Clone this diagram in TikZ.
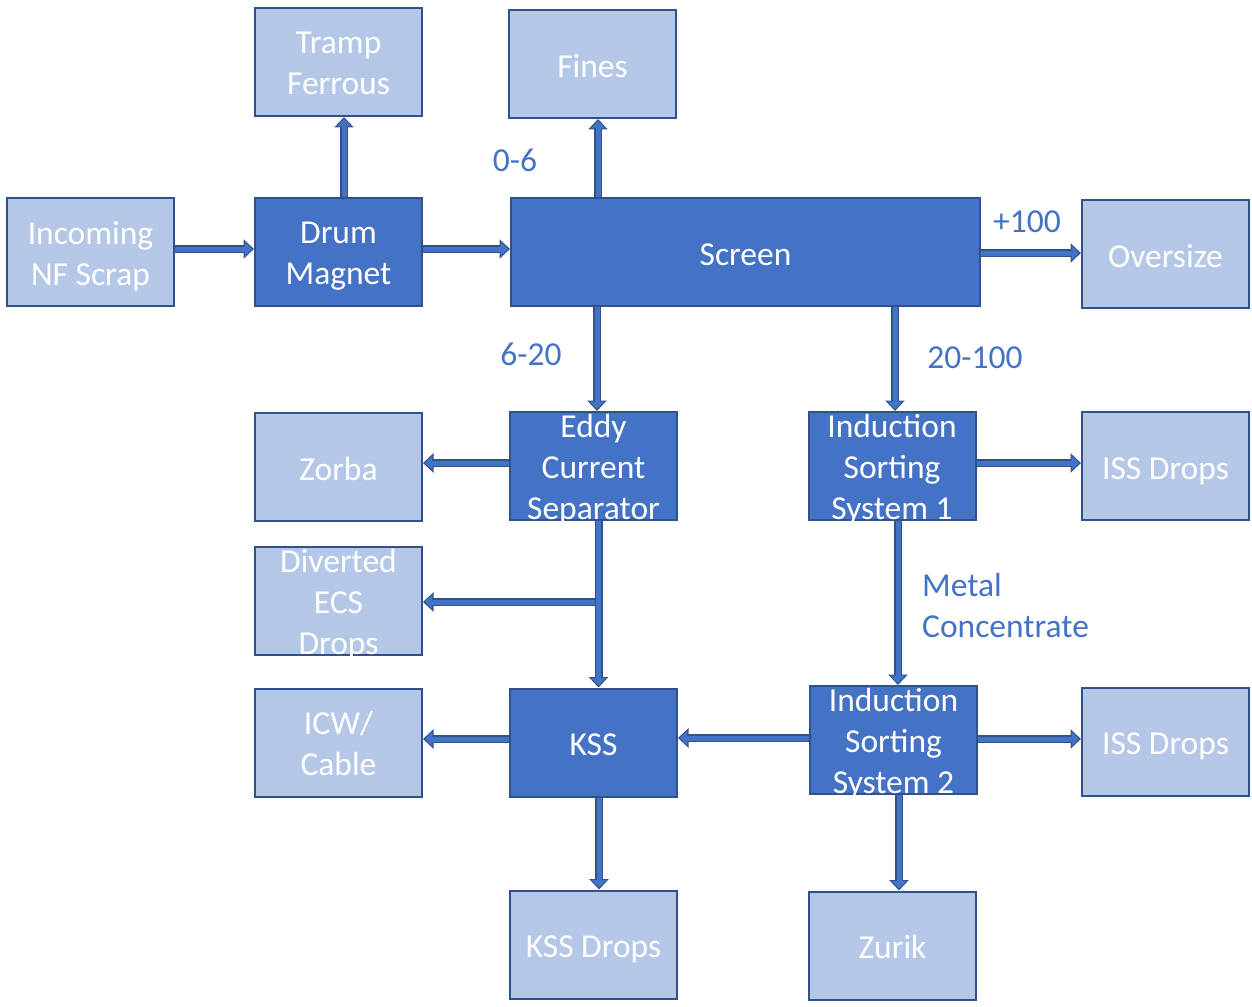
\documentclass[tikz,border=0pt]{standalone}
\usepackage{fontspec}
\setmainfont{Carlito}
\usetikzlibrary{arrows.meta,calc}
\definecolor{darkfill}{HTML}{4472C4}
\definecolor{edge}{HTML}{2F528F}
\definecolor{lightfill}{HTML}{B4C7E7}
\begin{document}
\begin{tikzpicture}[x=1pt,y=-1pt,
  box/.style={rectangle, draw=edge, line width=2pt, minimum width=167pt, minimum height=108pt,
     inner sep=0pt},
  btxt/.style={inner sep=0pt, align=center, text=white, font=\fontsize{33.5}{41}\selectfont,
     execute at begin node={\rule{0pt}{33pt}},
     execute at end node={\rule[-8.4pt]{0pt}{8.4pt}}, yshift=-1pt},
  mtxt/.style={btxt, yshift=-4.5pt},
  lbox/.style={box, fill=lightfill},
  dbox/.style={box, fill=darkfill},
  lbl/.style={text=darkfill, font=\fontsize{33.5}{41}\selectfont, inner sep=0pt},
  arr/.style={line width=5pt, draw=darkfill, -{Triangle[width=14pt,length=7.5pt]}, shorten >=1.8pt,
     preaction={draw=edge, line width=8pt, -{Triangle[width=19pt,length=10.5pt]}, shorten >=0pt}}
]
\useasboundingbox (0,0) rectangle (1252,1006);
\node[lbox, label={[mtxt]center:{Incoming\\NF Scrap}}] (inc) at (90.5,252) {};
\node[lbox, label={[mtxt]center:{Tramp\\Ferrous}}] (tramp) at (338.5,62) {};
\node[dbox, label={[mtxt]center:{Drum\\Magnet}}] (drum) at (338.5,252) {};
\node[lbox, label={[btxt]center:{Fines}}] (fines) at (592.5,64) {};
\node[dbox, minimum width=469pt, label={[btxt]center:{Screen}}] (screen) at (745.5,252) {};
\node[lbox, label={[btxt]center:{Oversize}}] (over) at (1165.5,254) {};
\node[lbox, label={[btxt]center:{Zorba}}] (zorba) at (338.5,467) {};
\node[dbox, label={[mtxt]center:{Eddy\\Current\\Separator}}] (ecs) at (593.5,466) {};
\node[dbox, label={[mtxt]center:{Induction\\Sorting\\System 1}}] (iss1) at (892,466) {};
\node[lbox, label={[btxt]center:{ISS Drops}}] (issd1) at (1165.5,466) {};
\node[lbox, label={[mtxt]center:{Diverted\\ECS\\Drops}}] (div) at (338.5,600.5) {};
\node[lbox, label={[mtxt]center:{ICW/\\Cable}}] (icw) at (338.5,742.5) {};
\node[dbox, label={[btxt]center:{KSS}}] (kss) at (593.5,742.5) {};
\node[dbox, label={[mtxt]center:{Induction\\Sorting\\System 2}}] (iss2) at (893.5,740) {};
\node[lbox, label={[btxt]center:{ISS Drops}}] (issd2) at (1165.5,741.5) {};
\node[lbox, label={[btxt]center:{KSS Drops}}] (kssd) at (593.5,944.5) {};
\node[lbox, label={[btxt]center:{Zurik}}] (zurik) at (892.5,945.5) {};

\node[lbl] (l06) at (515,160) {0-6};
\node[lbl] (l100) at (1027,222) {+100};
\node[lbl] (l620) at (531,354) {6-20};
\node[lbl] (l20100) at (975,358) {20-100};
\node[lbl, anchor=west, align=left] (lmc) at (922,605) {Metal\\Concentrate};

\draw[arr] ([yshift=3pt]inc.east) -- ([yshift=3pt]drum.west);
\draw[arr] ([xshift=5.5pt]drum.north) -- ([xshift=5.5pt]tramp.south);
\draw[arr] ([yshift=3pt]drum.east) -- ([yshift=3pt]drum.east -| screen.west);
\draw[arr] ([xshift=5.5pt]fines.south |- screen.north) -- ([xshift=5.5pt]fines.south);
\draw[arr] ([yshift=1pt]over.west -| screen.east) -- ([yshift=1pt]over.west);
\draw[arr] ([xshift=3.5pt]ecs.north |- screen.south) -- ([xshift=3.5pt]ecs.north);
\draw[arr] ([xshift=3pt]iss1.north |- screen.south) -- ([xshift=3pt]iss1.north);
\draw[arr] ([yshift=3pt]ecs.west) -- ([yshift=3pt]ecs.west -| zorba.east);
\coordinate (br) at ([xshift=5pt,yshift=-1.5pt]ecs.south |- div.east);
\draw[arr] (br) -- (br -| div.east);
\draw[arr] ([xshift=5pt]ecs.south) -- ([xshift=5pt]kss.north);
\draw[arr] ([yshift=3pt]iss1.east) -- ([yshift=3pt]iss1.east -| issd1.west);
\draw[arr] ([xshift=6pt]iss1.south) -- ([xshift=6pt]iss1.south |- iss2.north);
\draw[arr] ([yshift=2pt]iss2.west) -- ([yshift=2pt]iss2.west -| kss.east);
\draw[arr] ([yshift=1pt]iss2.east) -- ([yshift=1pt]iss2.east -| issd2.west);
\draw[arr] ([yshift=3.5pt]kss.west) -- ([yshift=3.5pt]kss.west -| icw.east);
\draw[arr] ([xshift=5.5pt]kss.south) -- ([xshift=5.5pt]kss.south |- kssd.north);
\draw[arr] ([xshift=5.5pt]iss2.south) -- ([xshift=5.5pt]iss2.south |- zurik.north);
\end{tikzpicture}
\end{document}
